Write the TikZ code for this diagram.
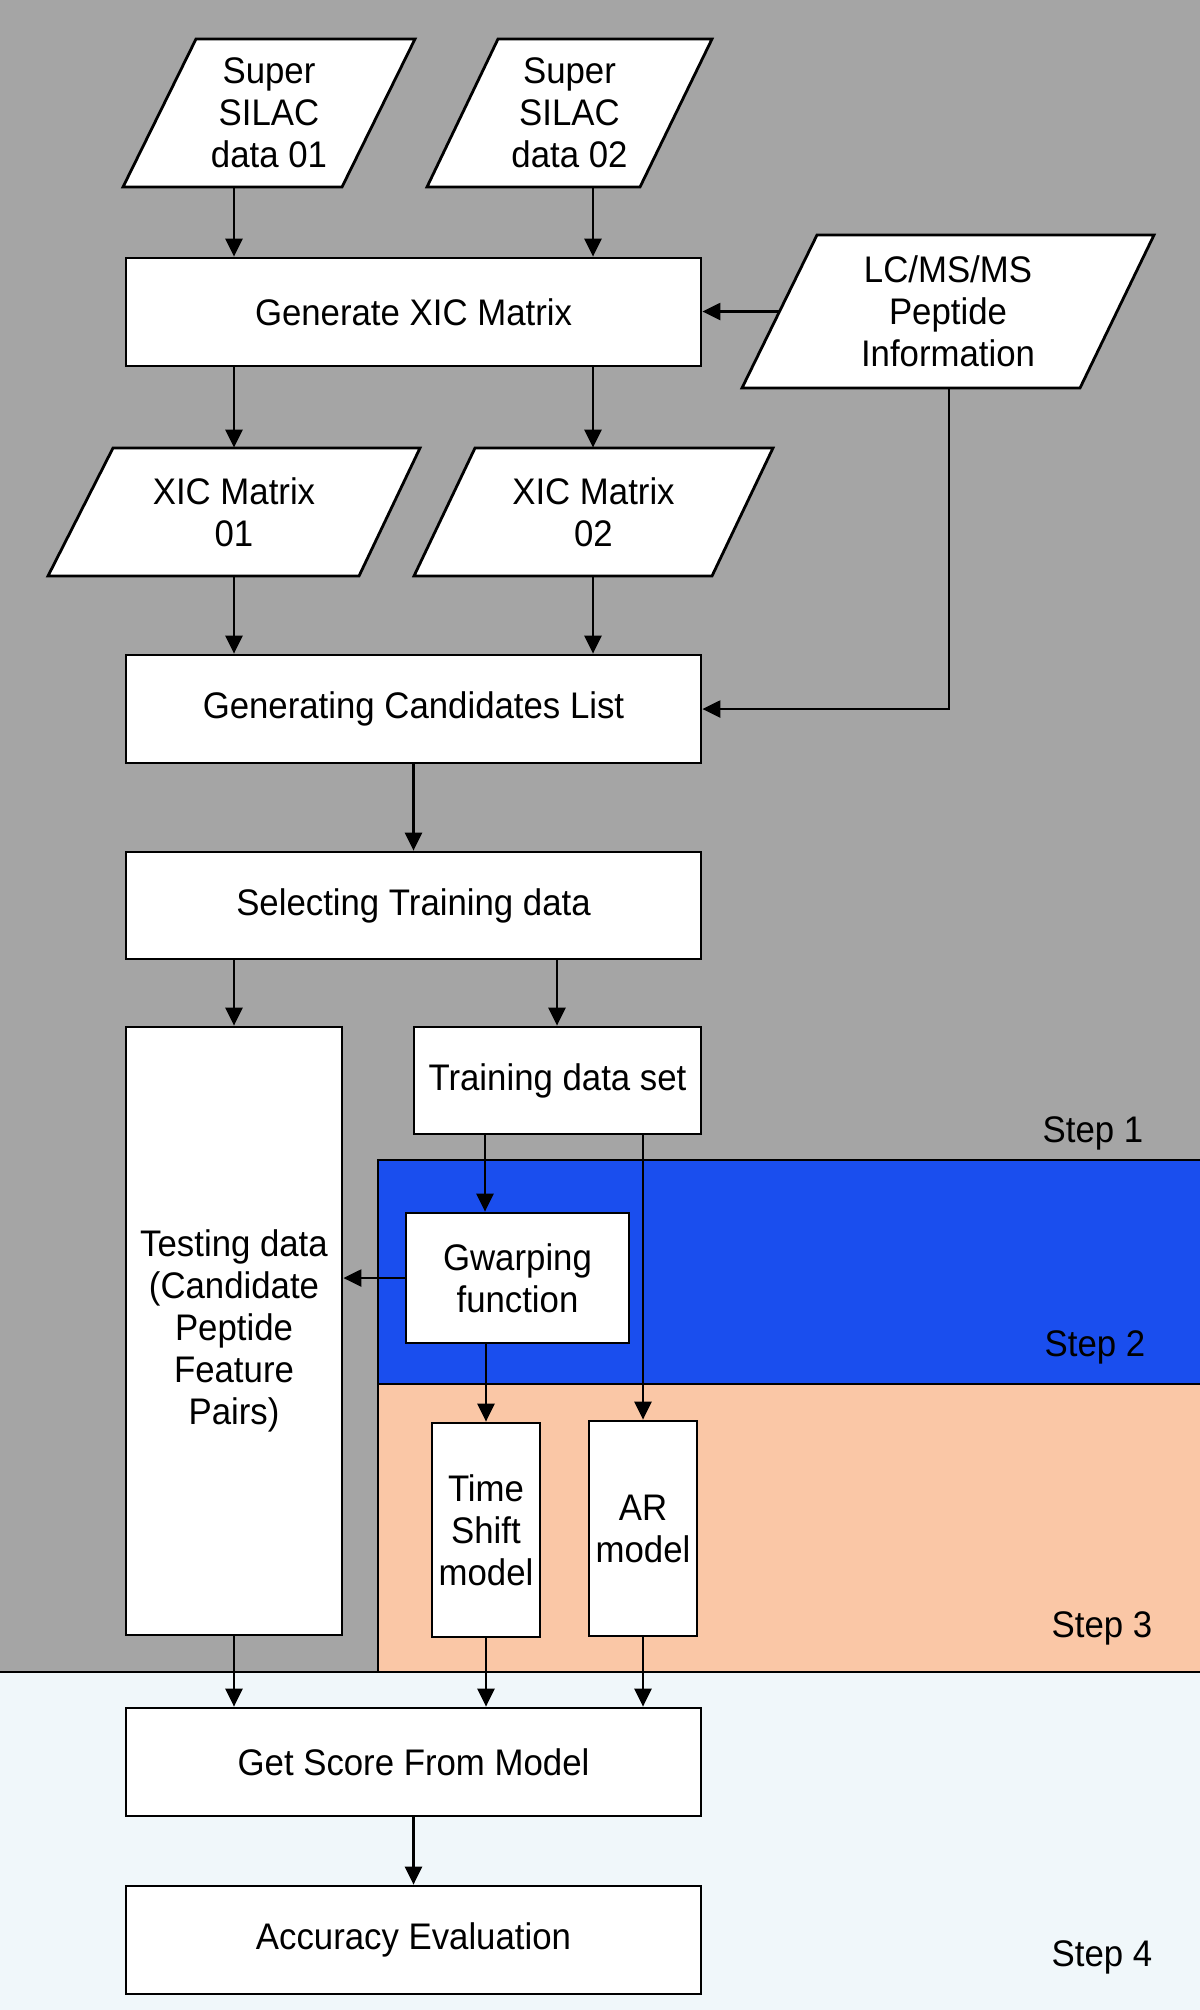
\documentclass[tikz,border=0pt]{standalone}
\usepackage{fontspec}
\setmainfont{Liberation Sans}[FakeStretch=0.94]
\usetikzlibrary{arrows.meta,calc}
\definecolor{bggray}{HTML}{A5A5A5}
\definecolor{stepblue}{HTML}{1A4EEE}
\definecolor{peach}{HTML}{FAC7A6}
\definecolor{paleblue}{HTML}{F0F7FA}
\begin{document}
\begin{tikzpicture}[x=0.5pt,y=-0.5pt,
  shapeline/.style={draw=black, fill=white, line width=1.4pt},
  box/.style={draw=black, fill=white, line width=1.4pt, inner sep=0pt, align=center, font=\fontsize{18.5}{21}\selectfont},
  txt/.style={inner sep=0pt, align=center, font=\fontsize{18.5}{21}\selectfont},
  wide/.style={minimum width=287.5pt, minimum height=54pt},
  arr/.style={-{Triangle[length=9pt,width=8.5pt]}, line width=1.2pt},
  region/.style={draw=black, line width=1.4pt}]
\useasboundingbox (0,0) rectangle (1200,2010);
% background regions
\fill[bggray] (0,0) rectangle (1200,1672);
\fill[paleblue] (0,1672) rectangle (1200,2010);
\filldraw[region, fill=stepblue] (378,1160) rectangle (1215,1384);
\filldraw[region, fill=peach] (378,1384) rectangle (1215,1672);
\draw[region] (-10,1672) -- (1215,1672);
% column coordinates
\coordinate (cA) at (234,0);
\coordinate (cB) at (593,0);
\coordinate (cC) at (557,0);
\coordinate (cD) at (485,0);
\coordinate (cE) at (949,0);
% parallelograms
\draw[shapeline] (196,39) -- (415,39) -- (342,187) -- (123,187) -- cycle;
\node[txt, minimum width=146pt, minimum height=74pt] (s1) at (269,113) {Super\\SILAC\\data 01};
\draw[shapeline] (498,39) -- (712,39) -- (640,187) -- (427,187) -- cycle;
\node[txt, minimum width=142.5pt, minimum height=74pt] (s2) at (569.5,113) {Super\\SILAC\\data 02};
\draw[shapeline] (817,235) coordinate (lcTL) -- (1154,235) -- (1080,388) -- (742,388) coordinate (lcBL) -- cycle;
\node[txt, minimum width=206pt, minimum height=76.5pt] (lc) at (948,311.5) {LC/MS/MS\\Peptide\\Information};
\coordinate (lcW) at ($(lcTL)!0.5!(lcBL)$);
\draw[shapeline] (113,448) -- (420,448) -- (359,576) -- (48,576) -- cycle;
\node[txt, minimum width=186pt, minimum height=64pt] (x1) at (234,512) {XIC Matrix\\01};
\draw[shapeline] (475,448) -- (773,448) -- (712,576) -- (414,576) -- cycle;
\node[txt, minimum width=179.5pt, minimum height=64pt] (x2) at (593.5,512) {XIC Matrix\\02};
% boxes
\node[box, wide] (gen) at (413.5,312) {Generate XIC Matrix};
\node[box, wide] (cand) at (413.5,709) {Generating Candidates List};
\node[box, wide, minimum height=53.5pt] (sel) at (413.5,905.5) {Selecting Training data};
\node[box, minimum width=108pt, minimum height=304pt] (test) at (234,1331) {Testing data\\(Candidate\\Peptide\\Feature\\Pairs)};
\node[box, minimum width=143.5pt, minimum height=53.5pt] (train) at (557.5,1080.5) {Training data set};
\node[box, minimum width=111.5pt, minimum height=65pt] (gw) at (517.5,1278) {Gwarping\\function};
\node[box, minimum width=54pt, minimum height=107pt] (ts) at (486,1530) {Time\\Shift\\model};
\node[box, minimum width=54pt, minimum height=107.5pt] (ar) at (643,1528.5) {AR\\model};
\node[box, wide] (score) at (413.5,1762) {Get Score From Model};
\node[box, wide] (acc) at (413.5,1940) {Accuracy Evaluation};
% step labels
\node[txt] (st1) at (1093,1133) {Step 1};
\node[txt] (st2) at (1095,1347) {Step 2};
\node[txt] (st3) at (1102,1628) {Step 3};
\node[txt] (st4) at (1102,1957) {Step 4};
% connectors
\draw[arr] (s1.south -| cA) -- (gen.north -| cA);
\draw[arr] (s2.south -| cB) -- (gen.north -| cB);
\draw[arr] (lcW) -- (lcW -| gen.east);
\draw[arr] (gen.south -| cA) -- (x1.north -| cA);
\draw[arr] (gen.south -| cB) -- (x2.north -| cB);
\draw[arr] (x1.south -| cA) -- (cand.north -| cA);
\draw[arr] (x2.south -| cB) -- (cand.north -| cB);
\draw[arr] (lc.south -| cE) |- (cand.east);
\draw[arr] (cand.south) -- (sel.north);
\draw[arr] (sel.south -| cA) -- (test.north -| cA);
\draw[arr] (sel.south -| cC) -- (train.north -| cC);
\draw[arr] (train.south -| cD) -- (gw.north -| cD);
\draw[arr] (train.south -| ar.north) -- (ar.north);
\draw[arr] (gw.west) -- (gw.west -| test.east);
\draw[arr] (gw.south -| ts.north) -- (ts.north);
\draw[arr] (test.south) -- (test.south |- score.north);
\draw[arr] (ts.south) -- (ts.south |- score.north);
\draw[arr] (ar.south) -- (ar.south |- score.north);
\draw[arr] (score.south) -- (acc.north);
\end{tikzpicture}
\end{document}
